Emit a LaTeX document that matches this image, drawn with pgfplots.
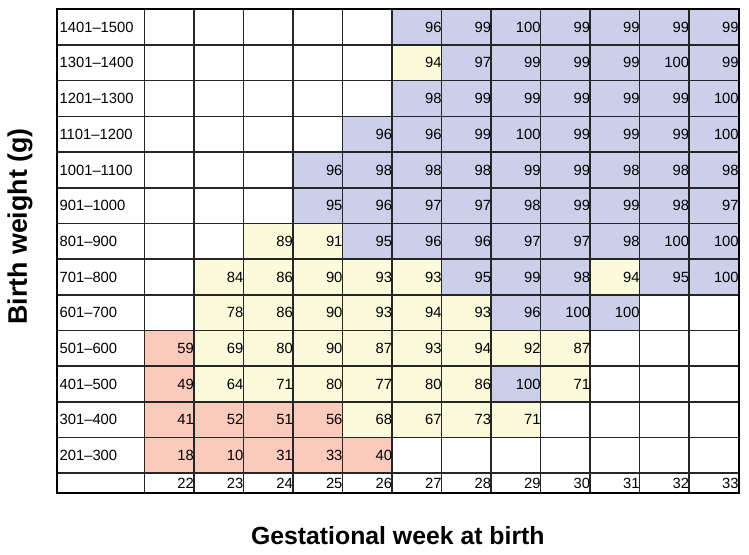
\documentclass[border=0pt]{standalone}
\usepackage{pgfplots}
\pgfplotsset{compat=1.18}
\usepackage{pgfplotstable}
\usepackage{fontspec}
\setmainfont{Liberation Sans}

\definecolor{cellblue}{RGB}{204,207,234}
\definecolor{cellyellow}{RGB}{251,251,219}
\definecolor{cellpink}{RGB}{250,203,188}

\newcommand\cellfont{\fontsize{7.4}{8}\selectfont}

% one filled cell, one x and one y unit less the width of a rule
\pgfdeclareplotmark{cell}{%
  \pgfpathrectangle{\pgfpoint{-11.98pt}{-8.52pt}}{\pgfpoint{23.96pt}{17.04pt}}%
  \pgfusepathqfill}

% wk = gestational week, r = weight row (0 = 201-300 g), v = value
\pgfplotstableread{
wk r v
27 12 96
28 12 99
29 12 100
30 12 99
31 12 99
32 12 99
33 12 99
27 11 94
28 11 97
29 11 99
30 11 99
31 11 99
32 11 100
33 11 99
27 10 98
28 10 99
29 10 99
30 10 99
31 10 99
32 10 99
33 10 100
26 9 96
27 9 96
28 9 99
29 9 100
30 9 99
31 9 99
32 9 99
33 9 100
25 8 96
26 8 98
27 8 98
28 8 98
29 8 99
30 8 99
31 8 98
32 8 98
33 8 98
25 7 95
26 7 96
27 7 97
28 7 97
29 7 98
30 7 99
31 7 99
32 7 98
33 7 97
24 6 89
25 6 91
26 6 95
27 6 96
28 6 96
29 6 97
30 6 97
31 6 98
32 6 100
33 6 100
23 5 84
24 5 86
25 5 90
26 5 93
27 5 93
28 5 95
29 5 99
30 5 98
31 5 94
32 5 95
33 5 100
23 4 78
24 4 86
25 4 90
26 4 93
27 4 94
28 4 93
29 4 96
30 4 100
31 4 100
22 3 59
23 3 69
24 3 80
25 3 90
26 3 87
27 3 93
28 3 94
29 3 92
30 3 87
22 2 49
23 2 64
24 2 71
25 2 80
26 2 77
27 2 80
28 2 86
29 2 100
30 2 71
22 1 41
23 1 52
24 1 51
25 1 56
26 1 68
27 1 67
28 1 73
29 1 71
22 0 18
23 0 10
24 0 31
25 0 33
26 0 40
}\cells

\pgfplotstableread{
r lab
12 1401–1500
11 1301–1400
10 1201–1300
9 1101–1200
8 1001–1100
7 901–1000
6 801–900
5 701–800
4 601–700
3 501–600
2 401–500
1 301–400
0 201–300
}\rows

\pgfplotstableread{
wk r
22 -1
23 -1
24 -1
25 -1
26 -1
27 -1
28 -1
29 -1
30 -1
31 -1
32 -1
33 -1
}\weeks

\pgfplotsset{
  cellplot/.style={only marks, mark=cell, color=#1, mark options={fill=#1, draw=#1},
    point meta=explicit, nodes near coords,
    every node near coord/.append style={anchor=east, xshift=13.1pt, inner sep=0.5pt,
      text=black, font=\cellfont}},
}
\tikzset{gridline/.style={black!85, line width=0.8pt}}

\begin{document}
\begin{tikzpicture}
\path[use as bounding box] (0,0) rectangle (374.5pt,277.5pt);
\begin{axis}[
  at={(28.5pt,31pt)}, anchor=south west,
  x=24.765pt, y=17.846pt,
  xmin=-1.7626, xmax=12, ymin=-0.552, ymax=13,
  xtick=\empty, ytick=\empty,
  axis line style={black, line width=0.95pt},
  axis on top, clip=false,
  /pgf/number format/assume math mode=true,
  xlabel={Gestational week at birth},
  ylabel={Birth weight (g)},
  every axis x label/.style={at={(axis description cs:0.5,-0.0879)}, anchor=center,
    font=\fontsize{12.4}{14}\selectfont\bfseries},
  every axis y label/.style={at={(axis description cs:-0.0543,0.551)}, rotate=90, anchor=center,
    font=\fontsize{13.4}{15}\selectfont\bfseries},
]
% 95 and over
\addplot[cellplot=cellblue, restrict expr to domain={\thisrow{v}}{94.5:101}]
  table[x expr=\thisrow{wk}-21.5, y expr=\thisrow{r}+0.5, meta=v]{\cells};
% 60 to 94
\addplot[cellplot=cellyellow, restrict expr to domain={\thisrow{v}}{59.5:94.5}]
  table[x expr=\thisrow{wk}-21.5, y expr=\thisrow{r}+0.5, meta=v]{\cells};
% under 60
\addplot[cellplot=cellpink, restrict expr to domain={\thisrow{v}}{-1:59.5}]
  table[x expr=\thisrow{wk}-21.5, y expr=\thisrow{r}+0.5, meta=v]{\cells};

% table rules
\pgfplotsinvokeforeach{0,...,11}{\draw[gridline] (axis cs:#1,-0.552) -- (axis cs:#1,13);}
\pgfplotsinvokeforeach{0,...,12}{\draw[gridline] (axis cs:-1.7626,#1) -- (axis cs:12,#1);}

\addplot[draw=none, mark=none, point meta=explicit symbolic,
  nodes near coords,
  every node near coord/.append style={anchor=west, xshift=0.6pt, inner sep=0.5pt,
    text=black, font=\cellfont}]
  table[x expr=-1.7626, y expr=\thisrow{r}+0.5, meta=lab]{\rows};

\addplot[draw=none, mark=none, point meta=explicit,
  nodes near coords,
  every node near coord/.append style={anchor=east, xshift=13.1pt, inner sep=0.5pt,
    text=black, font=\cellfont}]
  table[x expr=\thisrow{wk}-21.5, y expr=-0.276, meta=wk]{\weeks};
\end{axis}
\end{tikzpicture}
\end{document}
